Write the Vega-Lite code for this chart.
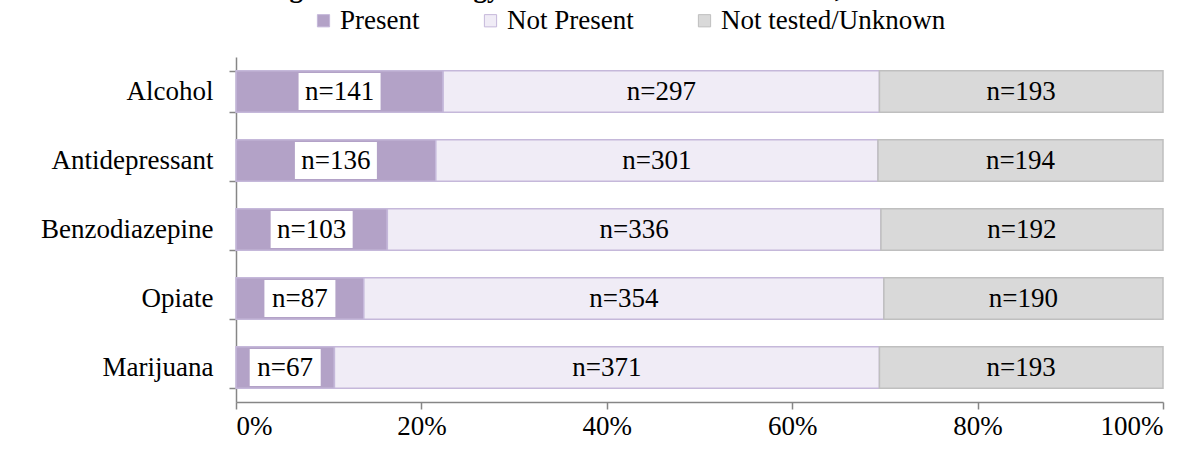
{
  "$schema": "https://vega.github.io/schema/vega-lite/v6.json",
  "autosize": "none",
  "width": 927,
  "height": 345,
  "padding": {"left": 236, "top": 57, "right": 39, "bottom": 53},
  "background": "white",
  "config": {
    "font": "Liberation Serif",
    "view": {"stroke": null}
  },
  "title": {
    "text": "Figure 1: Toxicology Results of Suicide Decedents, 2005-2012",
    "font": "Liberation Serif",
    "fontSize": 27,
    "fontWeight": "bold",
    "color": "black",
    "anchor": "middle",
    "dx": -84,
    "offset": 4
  },
  "data": {
    "values": [
      {"drug": "Alcohol", "status": "Present", "ord": 1, "n": 141},
      {"drug": "Alcohol", "status": "Not Present", "ord": 2, "n": 297},
      {"drug": "Alcohol", "status": "Not tested/Unknown", "ord": 3, "n": 193},
      {"drug": "Antidepressant", "status": "Present", "ord": 1, "n": 136},
      {"drug": "Antidepressant", "status": "Not Present", "ord": 2, "n": 301},
      {"drug": "Antidepressant", "status": "Not tested/Unknown", "ord": 3, "n": 194},
      {"drug": "Benzodiazepine", "status": "Present", "ord": 1, "n": 103},
      {"drug": "Benzodiazepine", "status": "Not Present", "ord": 2, "n": 336},
      {"drug": "Benzodiazepine", "status": "Not tested/Unknown", "ord": 3, "n": 192},
      {"drug": "Opiate", "status": "Present", "ord": 1, "n": 87},
      {"drug": "Opiate", "status": "Not Present", "ord": 2, "n": 354},
      {"drug": "Opiate", "status": "Not tested/Unknown", "ord": 3, "n": 190},
      {"drug": "Marijuana", "status": "Present", "ord": 1, "n": 67},
      {"drug": "Marijuana", "status": "Not Present", "ord": 2, "n": 371},
      {"drug": "Marijuana", "status": "Not tested/Unknown", "ord": 3, "n": 193}
    ]
  },
  "transform": [
    {"stack": "n", "groupby": ["drug"], "sort": [{"field": "ord"}], "offset": "normalize", "as": ["x0", "x1"]},
    {"calculate": "(datum.x0 + datum.x1) / 2", "as": "mid"},
    {"calculate": "'n=' + datum.n", "as": "label"}
  ],
  "encoding": {
    "y": {
      "field": "drug",
      "type": "nominal",
      "sort": ["Alcohol", "Antidepressant", "Benzodiazepine", "Opiate", "Marijuana"],
      "title": null,
      "scale": {"paddingInner": 0.4, "paddingOuter": 0.2},
      "axis": {
        "labelFont": "Liberation Serif",
        "labelFontSize": 27,
        "labelColor": "black",
        "labelPadding": 16,
        "labelLimit": 0,
        "tickSize": 7,
        "tickBand": "extent",
        "tickColor": "#868686",
        "domainColor": "#868686",
        "tickWidth": 1.5,
        "domainWidth": 1.5
      }
    }
  },
  "layer": [
    {
      "mark": {"type": "bar", "strokeWidth": 1.5},
      "encoding": {
        "x": {
          "field": "x0",
          "type": "quantitative",
          "title": null,
          "scale": {"domain": [0, 1]},
          "axis": {
            "format": "%",
            "values": [0, 0.2, 0.4, 0.6, 0.8, 1],
            "grid": false,
            "labelFont": "Liberation Serif",
            "labelFontSize": 27,
            "labelColor": "black",
            "labelPadding": 4,
            "tickSize": 7,
            "tickColor": "#868686",
            "domainColor": "#868686",
            "tickWidth": 1.5,
            "domainWidth": 1.5
          }
        },
        "x2": {"field": "x1"},
        "color": {
          "field": "status",
          "type": "nominal",
          "scale": {
            "domain": ["Present", "Not Present", "Not tested/Unknown"],
            "range": ["#b3a2c7", "#f0ecf6", "#d9d9d9"]
          },
          "legend": {
            "title": null,
            "orient": "none",
            "direction": "horizontal",
            "legendX": 74,
            "legendY": -50,
            "symbolType": "square",
            "symbolSize": 150,
            "symbolStrokeWidth": 1,
            "symbolStrokeColor": "#c5b8da",
            "labelFont": "Liberation Serif",
            "labelFontSize": 27,
            "labelColor": "black",
            "labelOffset": 3,
            "labelLimit": 0,
            "columnPadding": 57
          }
        },
        "stroke": {
          "field": "status",
          "type": "nominal",
          "scale": {
            "domain": ["Present", "Not Present", "Not tested/Unknown"],
            "range": ["#c5b8da", "#c5b8da", "#bfbfbf"]
          },
          "legend": null
        }
      }
    },
    {
      "transform": [{"filter": "datum.status == 'Present' && datum.n >= 100"}],
      "mark": {"type": "point", "shape": "M-1,-0.45H1V0.45H-1Z", "filled": true, "color": "white", "opacity": 1},
      "encoding": {
        "x": {"field": "mid", "type": "quantitative"},
        "size": {"value": 6724}
      }
    },
    {
      "transform": [{"filter": "datum.status == 'Present' && datum.n < 100"}],
      "mark": {"type": "point", "shape": "M-1,-0.52H1V0.52H-1Z", "filled": true, "color": "white", "opacity": 1},
      "encoding": {
        "x": {"field": "mid", "type": "quantitative"},
        "size": {"value": 5041}
      }
    },
    {
      "mark": {"type": "text", "font": "Liberation Serif", "fontSize": 27, "color": "black", "baseline": "middle"},
      "encoding": {
        "x": {"field": "mid", "type": "quantitative"},
        "text": {"field": "label"}
      }
    }
  ]
}
